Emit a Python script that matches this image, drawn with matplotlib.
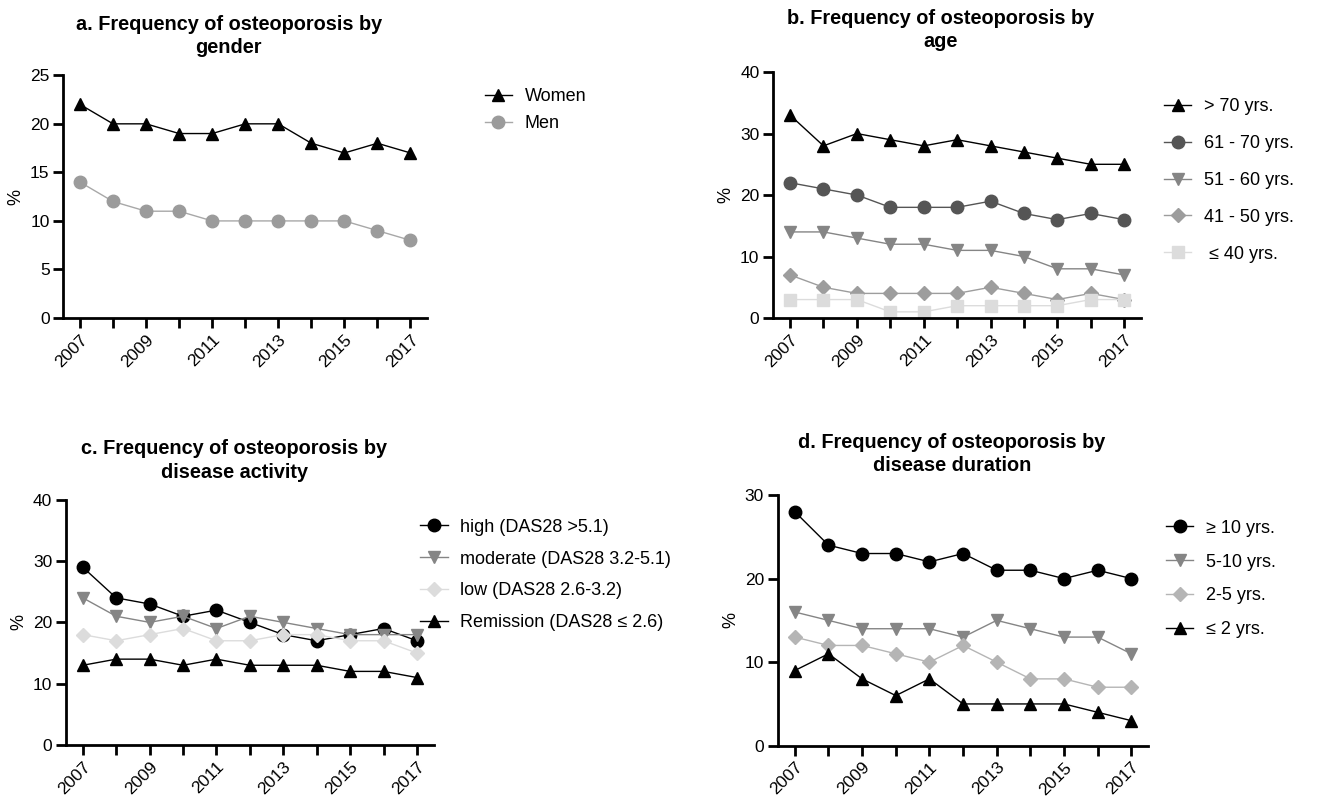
import matplotlib
matplotlib.use("Agg")
import matplotlib.pyplot as plt

plt.rcParams['font.family'] = ['Liberation Sans', 'DejaVu Sans']

years = list(range(2007, 2018))
year_labels = [str(y) if (y - 2007) % 2 == 0 else "" for y in years]

# a. gender
women = [22, 20, 20, 19, 19, 20, 20, 18, 17, 18, 17]
men = [14, 12, 11, 11, 10, 10, 10, 10, 10, 9, 8]

# b. age
age_70 = [33, 28, 30, 29, 28, 29, 28, 27, 26, 25, 25]
age_61 = [22, 21, 20, 18, 18, 18, 19, 17, 16, 17, 16]
age_51 = [14, 14, 13, 12, 12, 11, 11, 10, 8, 8, 7]
age_41 = [7, 5, 4, 4, 4, 4, 5, 4, 3, 4, 3]
age_40 = [3, 3, 3, 1, 1, 2, 2, 2, 2, 3, 3]

# c. disease activity
act_high = [29, 24, 23, 21, 22, 20, 18, 17, 18, 19, 17]
act_mod = [24, 21, 20, 21, 19, 21, 20, 19, 18, 18, 18]
act_low = [18, 17, 18, 19, 17, 17, 18, 18, 17, 17, 15]
act_rem = [13, 14, 14, 13, 14, 13, 13, 13, 12, 12, 11]

# d. disease duration
dur_10 = [28, 24, 23, 23, 22, 23, 21, 21, 20, 21, 20]
dur_5 = [16, 15, 14, 14, 14, 13, 15, 14, 13, 13, 11]
dur_2 = [13, 12, 12, 11, 10, 12, 10, 8, 8, 7, 7]
dur_0 = [9, 11, 8, 6, 8, 5, 5, 5, 5, 4, 3]

fig = plt.figure(figsize=(13.22, 8.01), dpi=100)


def style(ax, ymax, ystep, title, pad, tx=0.455):
    ax.set_xlim(2006.5, 2017.5)
    ax.set_ylim(0, ymax)
    ax.set_yticks(range(0, ymax + 1, ystep))
    ax.set_xticks(years)
    ax.set_xticklabels(year_labels, rotation=45, ha="right", rotation_mode="anchor")
    for s in ["top", "right"]:
        ax.spines[s].set_visible(False)
    for s in ["left", "bottom"]:
        ax.spines[s].set_linewidth(2)
    ax.tick_params(width=2, length=7, labelsize=12.5, pad=3)
    ax.set_ylabel("%", fontsize=13)
    ax.set_title(title, fontsize=14.3, fontweight="bold", pad=pad, x=tx,
                 linespacing=1.3)


def series(ax, y, marker, color, lcolor, label, ms=8):
    ax.plot(years, y, marker=marker, color=lcolor, markerfacecolor=color,
            markeredgecolor=color, markersize=ms, linewidth=1, label=label)


def legend(ax, x, y, spacing):
    ax.legend(loc="upper left", bbox_to_anchor=(x, y), frameon=False,
              fontsize=13, handlelength=1.5, handletextpad=0.7,
              labelspacing=spacing)


ax_a = fig.add_axes([0.048, 0.603, 0.275, 0.303])
series(ax_a, women, "^", "black", "black", "Women")
series(ax_a, men, "o", "#9b9b9b", "#a8a8a8", "Men", 9)
style(ax_a, 25, 5, "a. Frequency of osteoporosis by\ngender", 16)
legend(ax_a, 1.114, 1.015, 0.58)

ax_b = fig.add_axes([0.585, 0.603, 0.278, 0.307])
series(ax_b, age_70, "^", "black", "black", "> 70 yrs.")
series(ax_b, age_61, "o", "#555555", "#555555", "61 - 70 yrs.", 9)
series(ax_b, age_51, "v", "#858585", "#858585", "51 - 60 yrs.", 9)
series(ax_b, age_41, "D", "#9d9d9d", "#9d9d9d", "41 - 50 yrs.", 7)
series(ax_b, age_40, "s", "#dcdcdc", "#dcdcdc", " \u2264 40 yrs.", 8)
style(ax_b, 40, 10, "b. Frequency of osteoporosis by\nage", 18)
legend(ax_b, 1.019, 0.96, 1.1)

ax_c = fig.add_axes([0.050, 0.070, 0.278, 0.306])
series(ax_c, act_high, "o", "black", "black", "high (DAS28 >5.1)", 9)
series(ax_c, act_mod, "v", "#858585", "#858585", "moderate (DAS28 3.2-5.1)", 9)
series(ax_c, act_low, "D", "#dcdcdc", "#dcdcdc", "low (DAS28 2.6-3.2)", 7)
series(ax_c, act_rem, "^", "black", "black", "Remission (DAS28 \u2264 2.6)")
style(ax_c, 40, 10, "c. Frequency of osteoporosis by\ndisease activity", 16, 0.457)
legend(ax_c, 0.92, 0.99, 0.83)

ax_d = fig.add_axes([0.5885, 0.069, 0.280, 0.313])
series(ax_d, dur_10, "o", "black", "black", "\u2265 10 yrs.", 9)
series(ax_d, dur_5, "v", "#858585", "#858585", "5-10 yrs.", 9)
series(ax_d, dur_2, "D", "#b5b5b5", "#b5b5b5", "2-5 yrs.", 7)
series(ax_d, dur_0, "^", "black", "black", "\u2264 2 yrs.")
style(ax_d, 30, 10, "d. Frequency of osteoporosis by\ndisease duration", 17, 0.47)
legend(ax_d, 1.005, 0.966, 0.93)

fig.savefig("out.png", dpi=100)
